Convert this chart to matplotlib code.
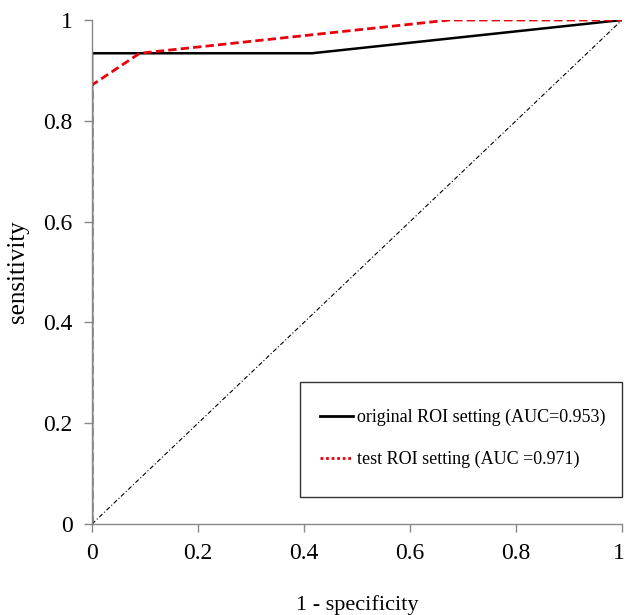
import matplotlib
matplotlib.use("Agg")
import matplotlib.pyplot as plt
from matplotlib.patches import Rectangle
import matplotlib.transforms as mtransforms

orig_x = [0, 0, 0.415, 1]
orig_y = [0, 0.934, 0.934, 1]
test_x = [0, 0, 0.09, 0.675, 1]
test_y = [0, 0.871, 0.934, 1, 1]
diag = [0, 1]
ticks = [0, 0.2, 0.4, 0.6, 0.8, 1]
tick_labels = ["0", "0.2", "0.4", "0.6", "0.8", "1"]

plt.rcParams['font.family'] = ['Liberation Serif', 'DejaVu Serif']

fig = plt.figure(figsize=(6.26, 6.15), dpi=100)
ax = fig.add_axes([92/626, 91/615, 530/626, 504/615])

ax.plot(diag, diag, color='black', lw=0.8, linestyle=(0, (4, 2, 1, 2)))
l1, = ax.plot(orig_x, orig_y, color='black', lw=1.8, label='original ROI setting (AUC=0.953)')
l2, = ax.plot(test_x, test_y, color='#e8000b', lw=2, linestyle=(0, (3, 1.5)), label='test ROI setting (AUC =0.971)')

ax.set_xlim(0, 1)
ax.set_ylim(0, 1)
ax.set_xticks(ticks)
ax.set_xticklabels(tick_labels)
ax.set_yticks(ticks)
ax.set_yticklabels(tick_labels)
ax.tick_params(labelsize=17, length=6, color='#888888', width=1, pad=8)
for s in ['top', 'right']:
    ax.spines[s].set_visible(False)
for s in ['left', 'bottom']:
    ax.spines[s].set_color('#888888')
    ax.spines[s].set_linewidth(1)

# keep the last x tick label inside the canvas
last = ax.get_xticklabels()[-1]
last.set_transform(last.get_transform() +
                   mtransforms.ScaledTranslation(-3/100, 0, fig.dpi_scale_trans))

ax.set_xlabel('1 - specificity', fontsize=16, labelpad=22)
ax.set_ylabel('sensitivity', fontsize=18, labelpad=10)

# legend frame
ax.add_patch(Rectangle((0.3925, 0.0536), 0.6075, 0.2281, transform=ax.transAxes,
                       facecolor='white', edgecolor='#333333', lw=1, zorder=4, clip_on=False))

h1 = plt.Line2D([], [], color='black', lw=2)
h2 = plt.Line2D([], [], color='#e8000b', lw=2, linestyle=(0, (1, 1)))
leg = ax.legend([h1, h2], [l1.get_label(), l2.get_label()],
                loc='center left', bbox_to_anchor=(0.43, 0.1696), fontsize=13,
                frameon=False, borderpad=0, labelspacing=1.4,
                handlelength=1.85, handletextpad=0.2, borderaxespad=0)
leg.set_zorder(5)

fig.savefig('out.png', dpi=100)
